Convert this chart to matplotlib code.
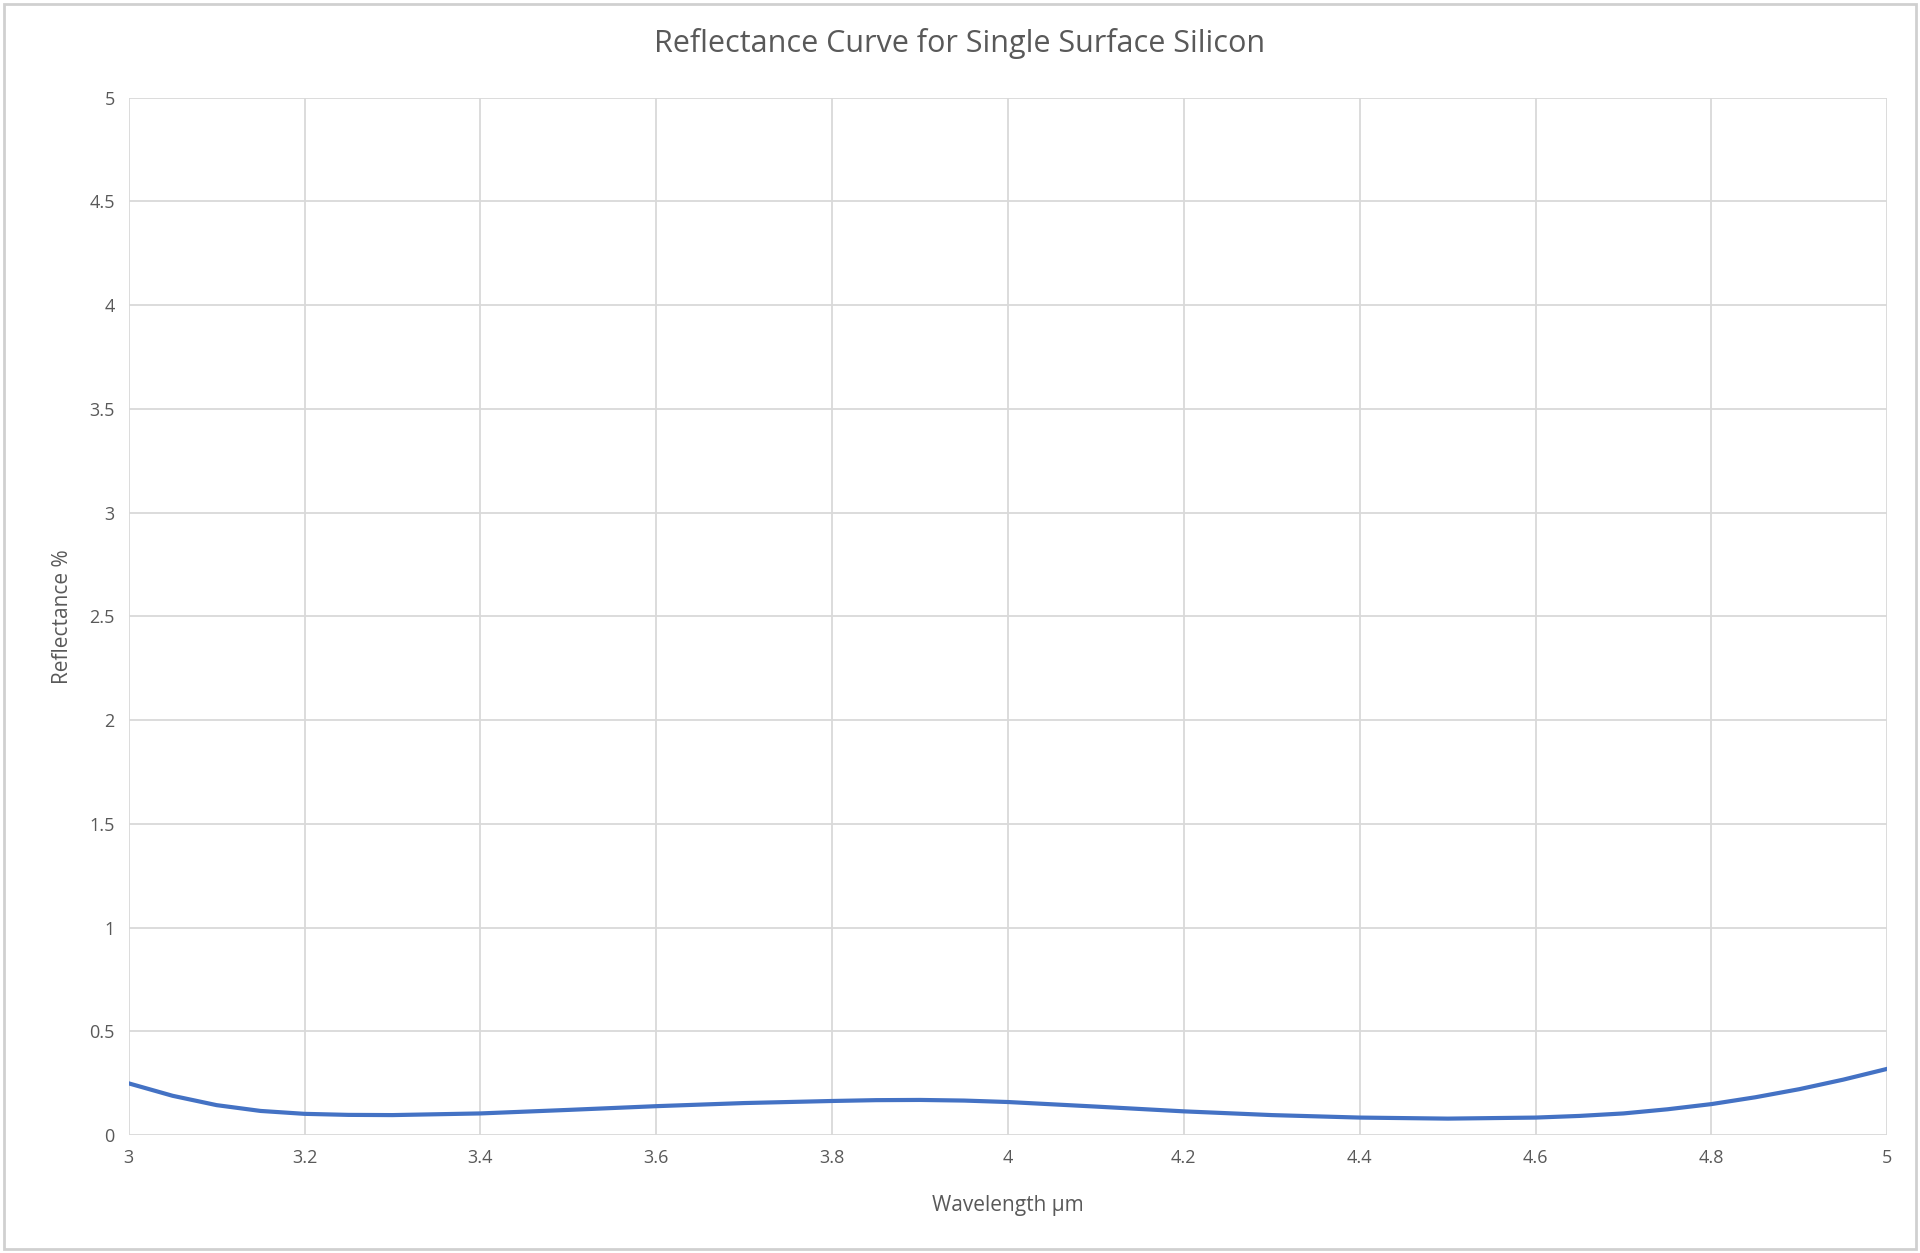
import matplotlib
matplotlib.use("Agg")
import matplotlib.pyplot as plt
from matplotlib.patches import Rectangle

wavelength = [3.0, 3.05, 3.1, 3.15, 3.2, 3.25, 3.3, 3.4, 3.5, 3.6, 3.7, 3.8, 3.85, 3.9, 3.95, 4.0, 4.1, 4.2, 4.3, 4.4, 4.5, 4.6, 4.65, 4.7, 4.75, 4.8, 4.85, 4.9, 4.95, 5.0]
reflectance = [0.25, 0.19, 0.145, 0.117, 0.103, 0.098, 0.097, 0.105, 0.122, 0.14, 0.155, 0.165, 0.169, 0.17, 0.167, 0.16, 0.138, 0.115, 0.097, 0.085, 0.08, 0.085, 0.093, 0.105, 0.125, 0.15, 0.183, 0.222, 0.268, 0.32]
x_ticks = [3, 3.2, 3.4, 3.6, 3.8, 4, 4.2, 4.4, 4.6, 4.8, 5]
x_labels = ["3", "3.2", "3.4", "3.6", "3.8", "4", "4.2", "4.4", "4.6", "4.8", "5"]
y_ticks = [0, 0.5, 1, 1.5, 2, 2.5, 3, 3.5, 4, 4.5, 5]
y_labels = ["0", "0.5", "1", "1.5", "2", "2.5", "3", "3.5", "4", "4.5", "5"]

plt.rcParams['font.family'] = ['Open Sans', 'DejaVu Sans']
txt = '#595959'
fig = plt.figure(figsize=(19.2, 12.53), dpi=100)
fig.patches.append(Rectangle((0.002, 0.003), 0.996, 0.994, transform=fig.transFigure,
                             fill=False, edgecolor='#d0d0d0', linewidth=2))
ax = fig.add_axes([0.067, 0.094, 0.916, 0.828])
ax.plot(wavelength, reflectance, color='#4472C4', linewidth=3, solid_joinstyle='round')
ax.set_xlim(3, 5)
ax.set_ylim(0, 5)
ax.set_xticks(x_ticks, x_labels)
ax.set_yticks(y_ticks, y_labels)
ax.grid(True, color='#d9d9d9', linewidth=1.3)
for s in ax.spines.values():
    s.set_visible(False)
ax.tick_params(length=0, labelsize=13, colors=txt, pad=10)
ax.set_xlabel('Wavelength µm', fontsize=15, color=txt, labelpad=20)
ax.set_ylabel('Reflectance %', fontsize=15, color=txt, labelpad=12)
fig.text(0.5, 0.965, 'Reflectance Curve for Single Surface Silicon', fontsize=22, color=txt,
         ha='center', va='center')
fig.savefig('out.png', dpi=100)
